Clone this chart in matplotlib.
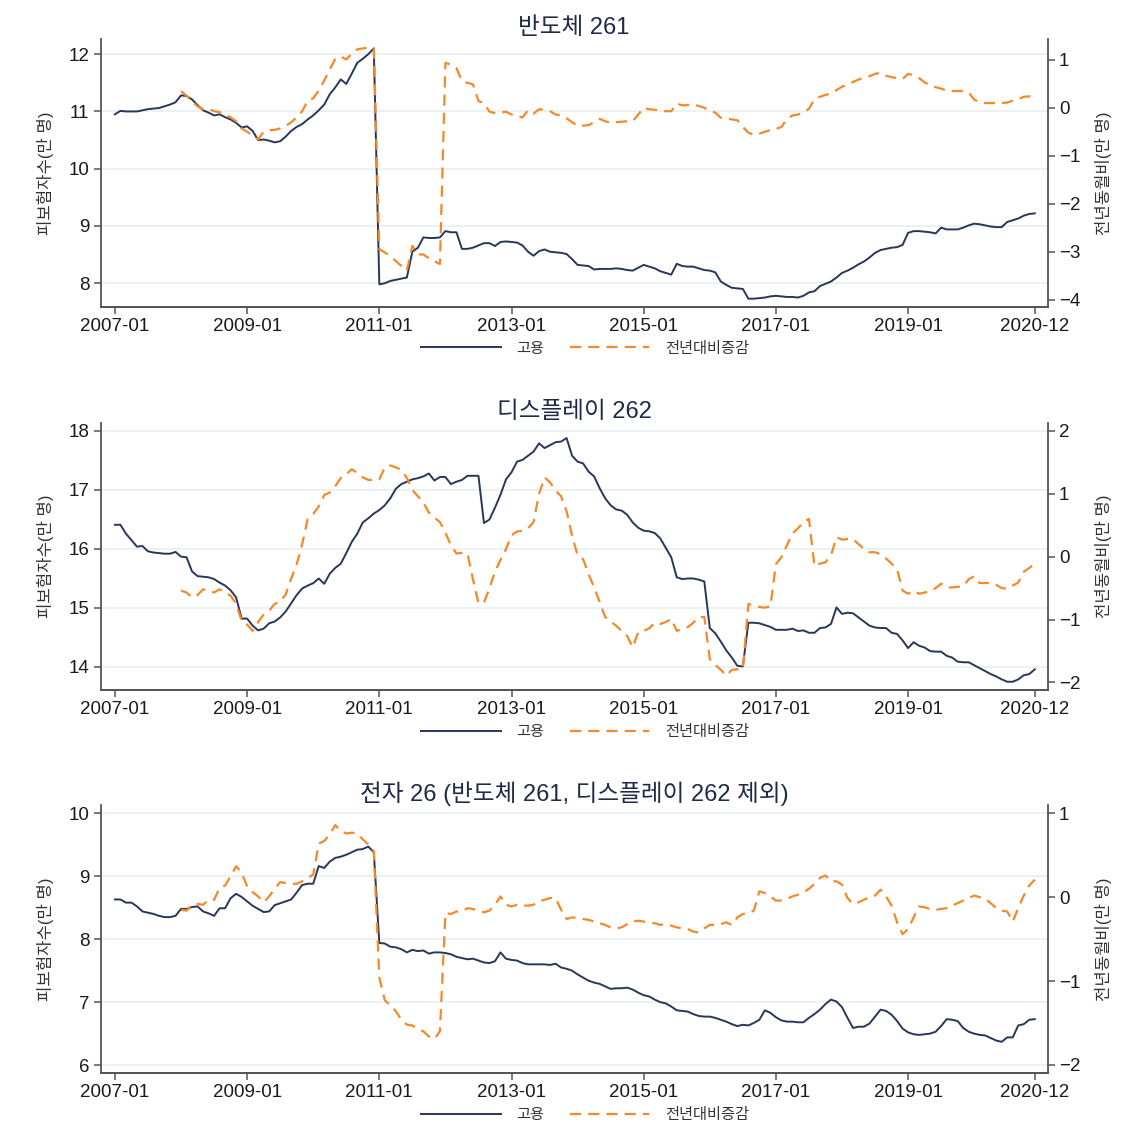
import matplotlib

matplotlib.use("Agg")
import matplotlib.pyplot as plt
import numpy as np
import pandas as pd
from matplotlib.lines import Line2D

plt.rcParams["font.family"] = ["Liberation Sans", "Noto Sans CJK KR", "DejaVu Sans"]

# monthly series, 2007-01 .. 2020-12 (employment), 2008-01 .. 2020-12 (yoy change)
dates = pd.date_range("2007-01-01", periods=168, freq="MS")
tick_idx = [0, 24, 48, 72, 96, 120, 144, 167]
tick_labels = [dates[i].strftime("%Y-%m") for i in tick_idx]

semi_emp = [
    10.95, 11.01, 11.00, 11.00, 11.00, 11.02, 11.04, 11.05, 11.06, 11.09,
    11.12, 11.16, 11.28, 11.27, 11.21, 11.11, 11.02, 10.98, 10.93, 10.95,
    10.90, 10.86, 10.80, 10.72, 10.74, 10.66, 10.50, 10.51, 10.49, 10.46,
    10.48, 10.56, 10.66, 10.73, 10.78, 10.86, 10.93, 11.02, 11.12, 11.30,
    11.42, 11.56, 11.48, 11.66, 11.85, 11.92, 12.00, 12.10, 7.98, 8.00,
    8.04, 8.06, 8.08, 8.10, 8.55, 8.62, 8.80, 8.79, 8.79, 8.80,
    8.91, 8.89, 8.89, 8.60, 8.60, 8.62, 8.66, 8.70, 8.70, 8.65,
    8.72, 8.73, 8.72, 8.71, 8.66, 8.55, 8.48, 8.56, 8.59, 8.55,
    8.54, 8.53, 8.51, 8.42, 8.32, 8.31, 8.30, 8.24, 8.25, 8.25,
    8.25, 8.26, 8.25, 8.23, 8.22, 8.27, 8.32, 8.29, 8.26, 8.21,
    8.18, 8.15, 8.34, 8.30, 8.29, 8.29, 8.26, 8.23, 8.22, 8.19,
    8.03, 7.97, 7.92, 7.91, 7.90, 7.73, 7.73, 7.74, 7.75, 7.77,
    7.78, 7.77, 7.76, 7.76, 7.75, 7.78, 7.84, 7.86, 7.95, 7.99,
    8.03, 8.10, 8.18, 8.22, 8.27, 8.33, 8.38, 8.45, 8.53, 8.58,
    8.60, 8.62, 8.63, 8.67, 8.88, 8.91, 8.91, 8.90, 8.89, 8.87,
    8.97, 8.94, 8.94, 8.94, 8.97, 9.01, 9.04, 9.03, 9.01, 8.99,
    8.98, 8.98, 9.07, 9.10, 9.13, 9.18, 9.21, 9.22,
]
semi_yoy = [
    0.35, 0.25, 0.14, 0.03, -0.03, -0.02, -0.07, -0.09, -0.14, -0.20,
    -0.28, -0.43, -0.50, -0.58, -0.66, -0.50, -0.47, -0.46, -0.43, -0.38,
    -0.30, -0.20, -0.07, 0.15, 0.20, 0.36, 0.57, 0.80, 1.02, 1.07,
    1.01, 1.13, 1.22, 1.24, 1.26, 1.25, -2.95, -3.02, -3.09, -3.20,
    -3.30, -3.40, -2.88, -3.06, -3.06, -3.14, -3.20, -3.26, 0.94, 0.90,
    0.83, 0.56, 0.52, 0.49, 0.14, 0.10, -0.08, -0.11, -0.10, -0.08,
    -0.14, -0.17, -0.20, -0.05, -0.12, -0.03, -0.04, -0.07, -0.14, -0.16,
    -0.22, -0.30, -0.38, -0.37, -0.36, -0.30, -0.23, -0.28, -0.31, -0.30,
    -0.29, -0.28, -0.28, -0.14, 0.00, -0.03, -0.04, -0.06, -0.07, -0.07,
    0.09, 0.05, 0.06, 0.07, 0.04, 0.00, -0.06, -0.10, -0.21, -0.23,
    -0.24, -0.26, -0.40, -0.52, -0.56, -0.54, -0.50, -0.46, -0.44, -0.40,
    -0.23, -0.16, -0.14, -0.10, -0.02, 0.18, 0.23, 0.27, 0.30, 0.37,
    0.44, 0.49, 0.54, 0.59, 0.63, 0.66, 0.71, 0.73, 0.67, 0.64,
    0.62, 0.60, 0.71, 0.68, 0.62, 0.53, 0.47, 0.43, 0.40, 0.36,
    0.35, 0.35, 0.35, 0.32, 0.17, 0.12, 0.10, 0.10, 0.10, 0.10,
    0.11, 0.15, 0.18, 0.23, 0.24, 0.22,
]

disp_emp = [
    16.41, 16.41, 16.26, 16.15, 16.04, 16.05, 15.96, 15.94, 15.93, 15.92,
    15.92, 15.95, 15.87, 15.86, 15.62, 15.54, 15.53, 15.52, 15.49, 15.43,
    15.38, 15.30, 15.18, 14.82, 14.82, 14.70, 14.62, 14.65, 14.74, 14.77,
    14.84, 14.94, 15.08, 15.22, 15.33, 15.38, 15.42, 15.50, 15.41, 15.58,
    15.68, 15.75, 15.93, 16.12, 16.26, 16.45, 16.52, 16.60, 16.66, 16.74,
    16.86, 17.02, 17.10, 17.14, 17.18, 17.20, 17.23, 17.28, 17.16, 17.22,
    17.22, 17.10, 17.14, 17.17, 17.24, 17.24, 17.24, 16.44, 16.50, 16.70,
    16.92, 17.18, 17.30, 17.48, 17.51, 17.58, 17.65, 17.79, 17.71, 17.76,
    17.81, 17.82, 17.88, 17.58, 17.48, 17.45, 17.31, 17.23, 17.03, 16.86,
    16.74, 16.67, 16.65, 16.58, 16.45, 16.36, 16.31, 16.30, 16.27, 16.18,
    16.02, 15.86, 15.52, 15.49, 15.50, 15.50, 15.48, 15.45, 14.66, 14.57,
    14.43, 14.28, 14.16, 14.02, 14.01, 14.75, 14.75, 14.74, 14.71, 14.68,
    14.63, 14.63, 14.63, 14.65, 14.61, 14.62, 14.58, 14.58, 14.66, 14.67,
    14.73, 15.01, 14.90, 14.92, 14.91, 14.84, 14.77, 14.70, 14.67, 14.66,
    14.66, 14.58, 14.56, 14.45, 14.32, 14.42, 14.36, 14.33, 14.27, 14.26,
    14.26, 14.19, 14.16, 14.09, 14.08, 14.08, 14.03, 13.98, 13.93, 13.88,
    13.84, 13.79, 13.75, 13.75, 13.79, 13.86, 13.88, 13.96,
]
disp_yoy = [
    -0.54, -0.57, -0.65, -0.61, -0.52, -0.54, -0.57, -0.52, -0.57, -0.62,
    -0.75, -1.02, -1.08, -1.18, -1.04, -0.92, -0.86, -0.75, -0.72, -0.60,
    -0.35, -0.12, 0.20, 0.60, 0.68, 0.80, 0.98, 1.02, 1.12, 1.25,
    1.31, 1.39, 1.33, 1.26, 1.22, 1.22, 1.23, 1.42, 1.45, 1.42,
    1.38, 1.25, 1.06, 0.96, 0.86, 0.70, 0.62, 0.55, 0.38, 0.18,
    0.05, 0.06, 0.05, -0.36, -0.74, -0.73, -0.50, -0.24, -0.05, 0.12,
    0.34, 0.40, 0.41, 0.45, 0.55, 1.00, 1.26, 1.18, 1.05, 0.96,
    0.72, 0.33, 0.02, -0.04, -0.28, -0.49, -0.72, -0.96, -1.03, -1.10,
    -1.18, -1.26, -1.44, -1.20, -1.18, -1.14, -1.05, -1.07, -1.04, -0.99,
    -1.18, -1.15, -1.12, -1.05, -0.96, -0.96, -1.63, -1.72, -1.80, -1.89,
    -1.80, -1.79, -1.79, -0.75, -0.78, -0.80, -0.81, -0.79, -0.12, -0.01,
    0.18, 0.37, 0.45, 0.55, 0.60, -0.15, -0.11, -0.09, 0.02, 0.31,
    0.27, 0.28, 0.28, 0.20, 0.12, 0.07, 0.07, 0.04, -0.03, -0.11,
    -0.20, -0.54, -0.59, -0.54, -0.59, -0.57, -0.55, -0.50, -0.43, -0.49,
    -0.49, -0.48, -0.47, -0.36, -0.31, -0.42, -0.42, -0.42, -0.45, -0.50,
    -0.51, -0.46, -0.41, -0.24, -0.18, -0.11,
]

elec_emp = [
    8.63, 8.63, 8.58, 8.58, 8.52, 8.44, 8.42, 8.40, 8.37, 8.35,
    8.35, 8.37, 8.48, 8.48, 8.51, 8.52, 8.44, 8.41, 8.37, 8.49,
    8.49, 8.65, 8.72, 8.67, 8.60, 8.53, 8.48, 8.43, 8.44, 8.54,
    8.57, 8.60, 8.63, 8.74, 8.86, 8.88, 8.88, 9.16, 9.13, 9.23,
    9.29, 9.31, 9.34, 9.38, 9.42, 9.43, 9.47, 9.38, 7.94, 7.93,
    7.88, 7.87, 7.84, 7.79, 7.83, 7.81, 7.82, 7.77, 7.79, 7.79,
    7.78, 7.76, 7.72, 7.70, 7.68, 7.69, 7.66, 7.63, 7.62, 7.65,
    7.79, 7.69, 7.67, 7.66, 7.62, 7.60, 7.60, 7.60, 7.60, 7.59,
    7.61, 7.55, 7.53, 7.50, 7.44, 7.39, 7.34, 7.31, 7.29, 7.25,
    7.21, 7.22, 7.22, 7.23, 7.20, 7.15, 7.11, 7.09, 7.04, 7.00,
    6.98, 6.93, 6.87, 6.86, 6.85, 6.81, 6.78, 6.77, 6.77, 6.75,
    6.72, 6.69, 6.65, 6.62, 6.64, 6.63, 6.67, 6.72, 6.87, 6.83,
    6.76, 6.71, 6.69, 6.69, 6.68, 6.68, 6.75, 6.81, 6.88, 6.97,
    7.04, 7.01, 6.92, 6.75, 6.59, 6.61, 6.61, 6.66, 6.77, 6.88,
    6.86, 6.80, 6.70, 6.58, 6.52, 6.49, 6.48, 6.49, 6.50, 6.53,
    6.62, 6.73, 6.72, 6.70, 6.59, 6.53, 6.50, 6.48, 6.47, 6.43,
    6.39, 6.37, 6.44, 6.44, 6.63, 6.65, 6.72, 6.73,
]
elec_yoy = [
    -0.15, -0.16, -0.09, -0.08, -0.09, -0.03, -0.03, 0.11, 0.14, 0.25,
    0.37, 0.29, 0.13, 0.06, 0.01, -0.06, 0.01, 0.10, 0.18, 0.17,
    0.16, 0.16, 0.19, 0.23, 0.27, 0.64, 0.67, 0.75, 0.86, 0.79,
    0.76, 0.77, 0.76, 0.69, 0.63, 0.55, -0.96, -1.23, -1.29, -1.36,
    -1.46, -1.52, -1.53, -1.57, -1.60, -1.66, -1.69, -1.60, -0.19, -0.20,
    -0.17, -0.17, -0.13, -0.14, -0.16, -0.18, -0.16, -0.09, 0.01, -0.09,
    -0.11, -0.09, -0.10, -0.10, -0.09, -0.05, -0.03, -0.01, -0.01, -0.15,
    -0.26, -0.24, -0.25, -0.26, -0.27, -0.29, -0.31, -0.33, -0.36, -0.37,
    -0.36, -0.32, -0.29, -0.28, -0.29, -0.30, -0.31, -0.33, -0.32, -0.34,
    -0.36, -0.37, -0.38, -0.41, -0.42, -0.37, -0.33, -0.33, -0.32, -0.30,
    -0.33, -0.24, -0.20, -0.19, -0.16, 0.07, 0.05, 0.01, -0.04, -0.04,
    -0.02, 0.01, 0.03, 0.06, 0.10, 0.16, 0.23, 0.26, 0.19, 0.19,
    0.15, -0.01, -0.08, -0.06, -0.03, 0.00, 0.02, 0.09, 0.01, -0.10,
    -0.30, -0.44, -0.38, -0.24, -0.11, -0.12, -0.14, -0.15, -0.14, -0.13,
    -0.10, -0.07, -0.04, -0.01, 0.02, 0.00, -0.02, -0.07, -0.13, -0.16,
    -0.17, -0.29, -0.13, 0.02, 0.14, 0.21,
]

titles = ["반도체 261", "디스플레이 262", "전자 26 (반도체 261, 디스플레이 262 제외)"]
left_label = "피보험자수(만 명)"
right_label = "전년동월비(만 명)"
legend_labels = ["고용", "전년대비증감"]

NAVY = "#27365a"
ORANGE = "#f5892a"
SPINE = "#555555"
GRID = "#e6eff1"

W, H = 1134, 1140


def px(x, y):
    return x / W, 1 - y / H


def draw_panel(fig, box, title, emp, yoy, llim, lticks, rlim, rticks):
    left, top, right, bottom = box
    ax = fig.add_axes([left / W, 1 - bottom / H, (right - left) / W, (bottom - top) / H])
    ax2 = ax.twinx()

    months = np.arange(len(emp))
    ymonths = np.arange(len(emp) - len(yoy), len(emp))
    ax.plot(months, emp, color=NAVY, lw=1.4, zorder=3)
    ax2.plot(ymonths, yoy, color=ORANGE, lw=1.6, dashes=(5, 3.2), zorder=3)

    ax.set_xlim(-2.6, 169.4)
    ax.set_ylim(*llim)
    ax.set_yticks(lticks)
    ax2.set_ylim(*rlim)
    ax2.set_yticks(rticks)
    ax.set_xticks(tick_idx)
    ax.set_xticklabels(tick_labels)

    ax.yaxis.grid(True, color=GRID, lw=1.1)
    ax.set_axisbelow(True)

    for a in (ax, ax2):
        a.spines["top"].set_visible(False)
        for s in ("left", "right", "bottom"):
            a.spines[s].set_color(SPINE)
            a.spines[s].set_linewidth(1.3)
        a.tick_params(direction="out", length=5, width=1.1, color=SPINE,
                      labelsize=13.5, labelcolor="#1a1a1a", pad=3)
    ax2.spines["left"].set_visible(False)
    ax.spines["right"].set_visible(False)

    cy = (top + bottom) / 2
    fig.text(*px(574, top - 11), title, ha="center", va="center", fontsize=17, color="#1e2a48")
    fig.text(*px(45, cy), left_label, rotation=90, ha="center", va="center", fontsize=12, color="#333333")
    fig.text(*px(1104, cy), right_label, rotation=90, ha="center", va="center", fontsize=12, color="#333333")

    handles = [
        Line2D([], [], color=NAVY, lw=1.4),
        Line2D([], [], color=ORANGE, lw=1.6, dashes=(5, 3.2)),
    ]
    fig.legend(handles, legend_labels, loc="center", bbox_to_anchor=px(585, bottom + 42),
               ncol=2, frameon=False, fontsize=11, handlelength=5.2, handletextpad=1.0,
               columnspacing=1.7, labelcolor="#333333")


fig = plt.figure(figsize=(W / 100, H / 100), dpi=100)
fig.patch.set_facecolor("white")

draw_panel(fig, (100.6, 39.3, 1048, 306.7), titles[0], semi_emp, semi_yoy,
           (7.59, 12.26), [8, 9, 10, 11, 12], (-4.15, 1.43), [-4, -3, -2, -1, 0, 1])
draw_panel(fig, (100.6, 423.3, 1048, 690), titles[1], disp_emp, disp_yoy,
           (13.61, 18.13), [14, 15, 16, 17, 18], (-2.12, 2.12), [-2, -1, 0, 1, 2])
draw_panel(fig, (100.6, 805, 1048, 1073.3), titles[2], elec_emp, elec_yoy,
           (5.87, 10.13), [6, 7, 8, 9, 10], (-2.1, 1.1), [-2, -1, 0, 1])

fig.savefig("out.png", dpi=100)
plt.close(fig)
